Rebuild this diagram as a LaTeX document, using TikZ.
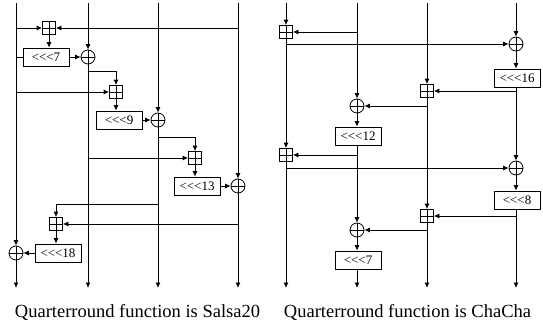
\documentclass[tikz,border=0pt]{standalone}
\usepackage{fontspec}
\setmainfont{Liberation Serif}
\usetikzlibrary{arrows.meta,calc}
% rotate-left label, kerns keep << from turning into a guillemet
\newcommand\rotl[1]{<\kern0pt<\kern0pt<#1}
\tikzset{
>={Latex[length=5.5pt,width=5pt]},
  wire/.style   = { draw, line width=0.8pt },
  flow/.style   = { wire, -> },
  cross/.style  = { path picture={
      \draw[line width=0.8pt] (path picture bounding box.north) -- (path picture bounding box.south)
            (path picture bounding box.west) -- (path picture bounding box.east);} },
  addop/.style  = { draw, line width=0.8pt, rectangle, minimum size=13pt, inner sep=0pt, cross },
  xorop/.style  = { draw, line width=0.8pt, circle, minimum size=14pt, inner sep=0pt, cross },
  rotbox/.style = { draw, line width=0.8pt, rectangle, minimum width=46pt, minimum height=18pt,
      inner sep=0pt, font=\fontsize{13}{13}\selectfont },
  caption/.style = { font=\fontsize{18.5}{22}\selectfont, anchor=base }
}

\begin{document}
\begin{tikzpicture}[x=1pt, y=-1pt]
  \useasboundingbox (0,0) rectangle (543,324);
  % Salsa20: the four words
  \coordinate (s0) at (16,3);   \coordinate (s0e) at (16,288);
  \coordinate (s1) at (88,3);   \coordinate (s1e) at (88,288);
  \coordinate (s2) at (158,3);  \coordinate (s2e) at (158,288);
  \coordinate (s3) at (238,3);  \coordinate (s3e) at (238,288);
  \node[addop]  (sadd1) at (49,28)   {};
  \node[rotbox] (srot1) at (46,57)   {\rotl{7}};
  \node[xorop]  (sxor1) at (88,57)   {};
  \node[addop]  (sadd2) at (116,92)  {};
  \node[rotbox] (srot2) at (119,120) {\rotl{9}};
  \node[xorop]  (sxor2) at (158,120) {};
  \node[addop]  (sadd3) at (195,158) {};
  \node[rotbox] (srot3) at (197,186) {\rotl{13}};
  \node[xorop]  (sxor3) at (238,186) {};
  \node[addop]  (sadd4) at (56,224)  {};
  \node[rotbox] (srot4) at (58,253)  {\rotl{18}};
  \node[xorop]  (sxor4) at (16,253)  {};
  \coordinate (sbr4) at (158,204);
  %% words straight down
  \draw[flow] (s0) -- (sxor4);  \draw[flow] (sxor4) -- (s0e);
  \draw[flow] (s1) -- (sxor1);  \draw[flow] (sxor1) -- (s1e);
  \draw[flow] (s2) -- (sxor2);  \draw[flow] (sxor2) -- (s2e);
  \draw[flow] (s3) -- (sxor3);  \draw[flow] (sxor3) -- (s3e);
  %% step 1
  \draw[flow] (s0 |- sadd1) -- (sadd1);
  \draw[flow] (s3 |- sadd1) -- (sadd1);
  \draw[flow] (sadd1) -- (sadd1 |- srot1.north);
  \draw[wire] (s0 |- srot1) -- (srot1);
  \draw[flow] (srot1) -- (sxor1);
  %% step 2
  \draw[flow] ($(sxor1)+(0,14)$) -| (sadd2);
  \draw[flow] (s0 |- sadd2) -- (sadd2);
  \draw[flow] (sadd2) -- (sadd2 |- srot2.north);
  \draw[flow] (srot2) -- (sxor2);
  %% step 3
  \draw[flow] ($(sxor2)+(0,17)$) -| (sadd3);
  \draw[flow] (s1 |- sadd3) -- (sadd3);
  \draw[flow] (sadd3) -- (sadd3 |- srot3.north);
  \draw[flow] (srot3) -- (sxor3);
  %% step 4
  \draw[flow] (sbr4) -| (sadd4);
  \draw[flow] (s3 |- sadd4) -- (sadd4);
  \draw[flow] (sadd4) -- (sadd4 |- srot4.north);
  \draw[flow] (srot4) -- (sxor4);

  % ChaCha: the four words
  \coordinate (c0) at (286,3);  \coordinate (c0e) at (286,288);
  \coordinate (c1) at (357,3);  \coordinate (c1e) at (357,288);
  \coordinate (c2) at (427,3);  \coordinate (c2e) at (427,288);
  \coordinate (c3) at (516,3);  \coordinate (c3e) at (516,288);
  \node[addop]  (cadd1) at (286,32)  {};
  \node[xorop]  (cxor1) at (516,44)  {};
  \node[rotbox] (crot1) at (517,78)  {\rotl{16}};
  \node[addop]  (cadd2) at (427,91)  {};
  \node[xorop]  (cxor2) at (357,106) {};
  \node[rotbox] (crot2) at (358,136) {\rotl{12}};
  \node[addop]  (cadd3) at (286,155) {};
  \node[xorop]  (cxor3) at (516,168) {};
  \node[rotbox] (crot3) at (517,200) {\rotl{8}};
  \node[addop]  (cadd4) at (427,216) {};
  \node[xorop]  (cxor4) at (357,230) {};
  \node[rotbox] (crot4) at (358,260) {\rotl{7}};
  %% a = a + b
  \draw[flow] (c0) -- (cadd1);
  \draw[flow] (cadd1) -- (cadd3);
  \draw[flow] (cadd3) -- (c0e);
  \draw[flow] (c1 |- cadd1) -- (cadd1);
  \draw[flow] (c1 |- cadd3) -- (cadd3);
  %% d ^= a; d <<<= 16, 8
  \draw[flow] (c3) -- (cxor1);
  \draw[flow] (cxor1) -- (cxor1 |- crot1.north);
  \draw[flow] (c3 |- crot1.south) -- (cxor3);
  \draw[flow] (cxor3) -- (cxor3 |- crot3.north);
  \draw[flow] (c3 |- crot3.south) -- (c3e);
  \draw[flow] (c0 |- cxor1) -- (cxor1);
  \draw[flow] (c0 |- cxor3) -- (cxor3);
  %% c = c + d
  \draw[flow] (c2) -- (cadd2);
  \draw[flow] (cadd2) -- (cadd4);
  \draw[flow] (cadd4) -- (c2e);
  \draw[flow] (c3 |- cadd2) -- (cadd2);
  \draw[flow] (c3 |- cadd4) -- (cadd4);
  %% b ^= c; b <<<= 12, 7
  \draw[flow] (c1) -- (cxor2);
  \draw[flow] (cxor2) -- (cxor2 |- crot2.north);
  \draw[flow] (c1 |- crot2.south) -- (cxor4);
  \draw[flow] (cxor4) -- (cxor4 |- crot4.north);
  \draw[flow] (c1 |- crot4.south) -- (c1e);
  \draw[flow] (c2 |- cxor2) -- (cxor2);
  \draw[flow] (c2 |- cxor4) -- (cxor4);

  % captions
  \node[caption] (salsa)  at (137.5,317) {Quarterround function is Salsa20};
  \node[caption] (chacha) at (407.5,317) {Quarterround function is ChaCha};
\end{tikzpicture}
\end{document}
